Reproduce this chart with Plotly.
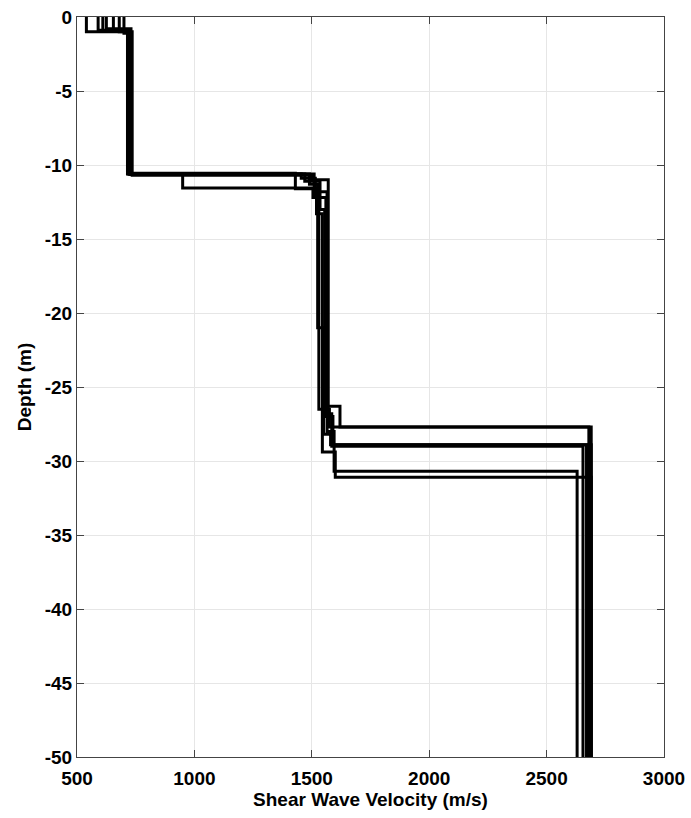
import plotly.graph_objects as go

# Layer velocities (m/s) and layer bottom depths (m) for each profile
profile_velocities = [
    [540, 715, 1455, 1515, 1530, 1575, 2690],
    [590, 725, 950, 1520, 1545, 1600, 2690],
    [625, 730, 1430, 1505, 1560, 1590, 2670],
    [655, 720, 1490, 1525, 1550, 1580, 2690],
    [680, 735, 1500, 1570, 1585, 2655],
    [700, 730, 1510, 1565, 1595, 2630],
    [610, 728, 1470, 1535, 1555, 1620, 2680],
]
profile_bottoms = [
    [1.0, 10.6, 10.9, 12.0, 26.5, 27.7, 50],
    [0.9, 10.65, 11.55, 13.3, 29.4, 31.1, 50],
    [0.8, 10.55, 11.6, 12.2, 27.0, 28.9, 50],
    [0.9, 10.6, 11.3, 21.0, 28.2, 28.9, 50],
    [1.0, 10.7, 11.0, 26.8, 29.0, 50],
    [1.1, 10.6, 11.8, 28.0, 30.7, 50],
    [0.95, 10.6, 11.1, 13.0, 26.3, 27.7, 50],
]

x_ticks = [500, 1000, 1500, 2000, 2500, 3000]
y_ticks = [0, -5, -10, -15, -20, -25, -30, -35, -40, -45, -50]

fig = go.Figure()
for vels, bots in zip(profile_velocities, profile_bottoms):
    xs, ys = [], []
    top = 0.0
    for v, b in zip(vels, bots):
        xs += [v, v]
        ys += [-top, -b]
        top = b
    fig.add_trace(go.Scatter(x=xs, y=ys, mode="lines",
                             line=dict(color="black", width=3),
                             showlegend=False, hoverinfo="skip"))

fam = "Liberation Sans, Arial, sans-serif"
axis_common = dict(
    showgrid=True, gridcolor="#e6e6e6", gridwidth=1,
    showline=True, linecolor="#444", linewidth=1, mirror="allticks",
    ticks="inside", ticklen=7, tickcolor="#444", automargin=False,
    zeroline=False, tickfont=dict(family=fam, size=19, color="black", weight="bold"),
)
fig.update_layout(
    width=691, height=818,
    margin=dict(l=77, r=27, t=17, b=61),
    plot_bgcolor="white", paper_bgcolor="white",
    font=dict(family=fam, size=19, color="black"),
    xaxis=dict(range=[500, 3000], tickvals=x_ticks, ticktext=[str(t) for t in x_ticks],
               ticklabelstandoff=4,
               title=dict(text="<b>Shear Wave Velocity (m/s)</b>", standoff=2,
                          font=dict(size=19)),
               **axis_common),
    yaxis=dict(range=[-50, 0], tickvals=y_ticks, ticktext=[str(t) for t in y_ticks],
               title=dict(text="<b>Depth (m)</b>", standoff=8, font=dict(size=19)),
               **axis_common),
)
fig.write_html("out.html")
